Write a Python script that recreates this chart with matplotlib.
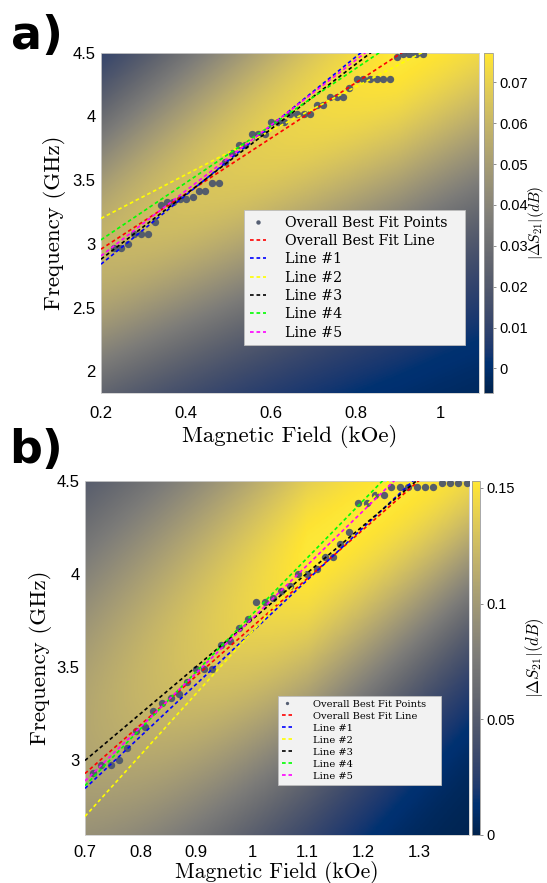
import numpy as np
import matplotlib
matplotlib.use("Agg")
import matplotlib.pyplot as plt
from matplotlib.ticker import FuncFormatter

plt.rcParams['mathtext.fontset'] = 'cm'

# ---- panel a data ----
field_a = [0.231, 0.247, 0.263, 0.278, 0.294, 0.31, 0.327, 0.341, 0.356, 0.37,
           0.385, 0.401, 0.417, 0.431, 0.446, 0.461, 0.477, 0.491, 0.508, 0.524,
           0.54, 0.555, 0.57, 0.586, 0.60, 0.616, 0.63, 0.646, 0.661, 0.677,
           0.692, 0.708, 0.723, 0.739, 0.755, 0.77, 0.785, 0.802, 0.817, 0.833,
           0.849, 0.864, 0.88, 0.896, 0.91, 0.926, 0.941, 0.957]
freq_a = [2.97, 2.97, 3.0, 3.08, 3.08, 3.08, 3.17, 3.305, 3.325, 3.325,
          3.35, 3.35, 3.37, 3.415, 3.415, 3.48, 3.48, 3.64, 3.71, 3.775,
          3.775, 3.86, 3.86, 3.86, 3.955, 3.955, 3.955, 4.02, 4.02, 4.02,
          4.02, 4.087, 4.087, 4.152, 4.152, 4.152, 4.223, 4.29, 4.29, 4.29,
          4.29, 4.29, 4.29, 4.467, 4.49, 4.49, 4.49, 4.49]
# fit lines: value at left edge, slope (GHz/kOe)
start_a = [2.958, 2.84, 3.199, 2.879, 3.031, 2.905]
slope_a = [2.175, 2.71, 1.72, 2.55, 2.24, 2.56]

# ---- panel b data ----
field_b = [0.715, 0.728, 0.746, 0.761, 0.776, 0.792, 0.807, 0.823, 0.839, 0.854,
           0.869, 0.884, 0.90, 0.914, 0.929, 0.945, 0.961, 0.976, 0.992, 1.008,
           1.024, 1.038, 1.053, 1.068, 1.083, 1.099, 1.116, 1.131, 1.146, 1.159,
           1.174, 1.19, 1.206, 1.221, 1.237, 1.25, 1.266, 1.281, 1.296, 1.311,
           1.326, 1.341, 1.356, 1.371, 1.386]
freq_b = [2.933, 2.978, 2.978, 3.0, 3.067, 3.156, 3.177, 3.266, 3.31, 3.334,
          3.357, 3.42, 3.49, 3.49, 3.49, 3.62, 3.64, 3.71, 3.76, 3.85,
          3.85, 3.87, 3.91, 3.937, 4.0, 4.0, 4.026, 4.09, 4.09, 4.16,
          4.226, 4.38, 4.38, 4.427, 4.427, 4.47, 4.47, 4.47, 4.47, 4.47,
          4.47, 4.49, 4.49, 4.49, 4.49]
start_b = [2.93, 2.85, 2.70, 3.00, 2.865, 2.89]
slope_b = [2.62, 2.80, 3.30, 2.52, 3.06, 2.90]

line_names = ['Overall Best Fit Line', 'Line #1', 'Line #2', 'Line #3', 'Line #4', 'Line #5']
line_colors = ['#ff0000', '#0000ff', '#ffff00', '#000000', '#00ff00', '#ff00ff']

xlim_a, ylim_a, clim_a = (0.2, 1.09), (1.83, 4.5), (-0.006, 0.0773)
xlim_b, ylim_b, clim_b = (0.7, 1.39), (2.6, 4.5), (0.0, 0.153)
cticks_a = [0, 0.01, 0.02, 0.03, 0.04, 0.05, 0.06, 0.07]
cticks_b = [0, 0.05, 0.1, 0.15]

# background ridge: centre (f at left edge, slope), amplitude range, width range
ridge_a = dict(f0=2.95, k=2.2, amp=(0.78, 1.0), amp_span=0.7, sig=(0.93, 1.22))
ridge_b = dict(f0=3.2, k=2.25, amp=(0.72, 1.0), amp_span=0.4, sig=(1.05, 0.72))


def ridge_map(xlim, ylim, clim, r, n=300):
    H, F = np.meshgrid(np.linspace(*xlim, n), np.linspace(*ylim, n))
    u = (H - xlim[0]) / (xlim[1] - xlim[0])
    fc = r['f0'] + r['k'] * (H - xlim[0])
    amp = r['amp'][0] + (r['amp'][1] - r['amp'][0]) * np.clip((H - xlim[0]) / r['amp_span'], 0, 1)
    sig = r['sig'][0] + (r['sig'][1] - r['sig'][0]) * u
    t = amp * np.exp(-0.5 * ((F - fc) / sig) ** 2)
    return clim[0] + t * (clim[1] - clim[0])


fmt = FuncFormatter(lambda v, p: '%g' % round(v, 3))


def panel(fig, rect, crect, xlim, ylim, clim, cticks, r, hx, fy, starts, slopes,
          xticks, yticks, legrect, legsize, mscale, hlen, hpad):
    ax = fig.add_axes(rect)
    cax = fig.add_axes(crect)
    img = ax.imshow(ridge_map(xlim, ylim, clim, r), extent=[*xlim, *ylim], origin='lower',
                    aspect='auto', cmap='cividis', vmin=clim[0], vmax=clim[1],
                    interpolation='bilinear')
    ax.plot(hx, fy, 'o', color='#4d576c', ms=5.3, mec='none', alpha=0.95,
            label='Overall Best Fit Points', zorder=3)
    xx = np.array(xlim)
    for s0, k, name, c in zip(starts, slopes, line_names, line_colors):
        ax.plot(xx, s0 + k * (xx - xlim[0]), color=c, lw=1.2,
                ls=(0, (2.2, 1.7)), label=name, zorder=4)
    ax.set_xlim(*xlim)
    ax.set_ylim(*ylim)
    ax.set_xticks(xticks)
    ax.set_yticks(yticks)
    ax.xaxis.set_major_formatter(fmt)
    ax.yaxis.set_major_formatter(fmt)
    ax.tick_params(length=0, labelsize=12)
    ax.tick_params(axis='y', pad=4)
    for lab in ax.get_xticklabels() + ax.get_yticklabels():
        lab.set_fontfamily('Liberation Sans')
    for sp in ax.spines.values():
        sp.set_color('#cfcfcf')
        sp.set_linewidth(0.6)
    leg = ax.legend(loc='upper left', bbox_to_anchor=legrect, mode='expand',
                    borderaxespad=0, fancybox=False, framealpha=1,
                    facecolor='#f2f2f2', edgecolor='#bdbdbd',
                    prop=dict(family='DejaVu Serif', size=legsize),
                    handlelength=hlen, handletextpad=hpad, labelspacing=0.3,
                    borderpad=0.4, markerscale=mscale)
    leg.get_frame().set_linewidth(0.6)

    cb = fig.colorbar(img, cax=cax, ticks=cticks, format=fmt)
    cb.outline.set_edgecolor('#9a9a9a')
    cb.outline.set_linewidth(0.6)
    cax.tick_params(length=2.5, width=0.6, color='#7a7a7a', labelsize=10.5, pad=2)
    for lab in cax.get_yticklabels():
        lab.set_fontfamily('Liberation Sans')
    return ax


fig = plt.figure(figsize=(5.47, 8.83), dpi=100)
W, Hh = 547.0, 883.0
cblabel = r'$|\Delta S_{21}|(dB)$'

ax_a = panel(fig, [101 / W, 1 - 393 / Hh, 378 / W, 340.5 / Hh],
             [484 / W, 1 - 393 / Hh, 9 / W, 340.5 / Hh],
             xlim_a, ylim_a, clim_a, cticks_a, ridge_a, field_a, freq_a, start_a, slope_a,
             [0.2, 0.4, 0.6, 0.8, 1.0], [2, 2.5, 3, 3.5, 4, 4.5],
             (0.378, 0.141, 0.585, 0.396), 10.3, 0.6, 1.15, 1.35)
ax_a.tick_params(axis='x', pad=9)
ax_a.set_xlabel('Magnetic Field (kOe)', fontfamily='cmr10', fontsize=16.5, va='center')
ax_a.xaxis.set_label_coords(0.5, -0.129)
ax_a.set_ylabel('Frequency (GHz)', fontfamily='cmr10', fontsize=16.5, va='center')
ax_a.yaxis.set_label_coords(-0.122, 0.5)
fig.text(536 / W, 1 - 223 / Hh, cblabel, fontsize=11, rotation=90,
         ha='center', va='center')

ax_b = panel(fig, [85 / W, 1 - 835 / Hh, 384 / W, 354 / Hh],
             [472 / W, 1 - 835 / Hh, 8 / W, 354 / Hh],
             xlim_b, ylim_b, clim_b, cticks_b, ridge_b, field_b, freq_b, start_b, slope_b,
             [0.7, 0.8, 0.9, 1.0, 1.1, 1.2, 1.3], [3, 3.5, 4, 4.5],
             (0.502, 0.122, 0.425, 0.271), 7.1, 0.45, 1.0, 2.2)
ax_b.tick_params(axis='x', pad=7)
ax_b.set_xlabel('Magnetic Field (kOe)', fontfamily='cmr10', fontsize=15.5, va='center')
ax_b.xaxis.set_label_coords(0.5, -(872 - 835) / 354)
ax_b.set_ylabel('Frequency (GHz)', fontfamily='cmr10', fontsize=16.5, va='center')
ax_b.yaxis.set_label_coords(-(85 - 40) / 384, 0.5)
fig.text(535 / W, 1 - 658 / Hh, cblabel, fontsize=12, rotation=90,
         ha='center', va='center')

fig.text(11 / W, 1 - 49 / Hh, 'a)', fontsize=33, fontweight='heavy', va='baseline')
fig.text(9 / W, 1 - 463 / Hh, 'b)', fontsize=33, fontweight='heavy', va='baseline')

fig.savefig('out.png', dpi=100)
